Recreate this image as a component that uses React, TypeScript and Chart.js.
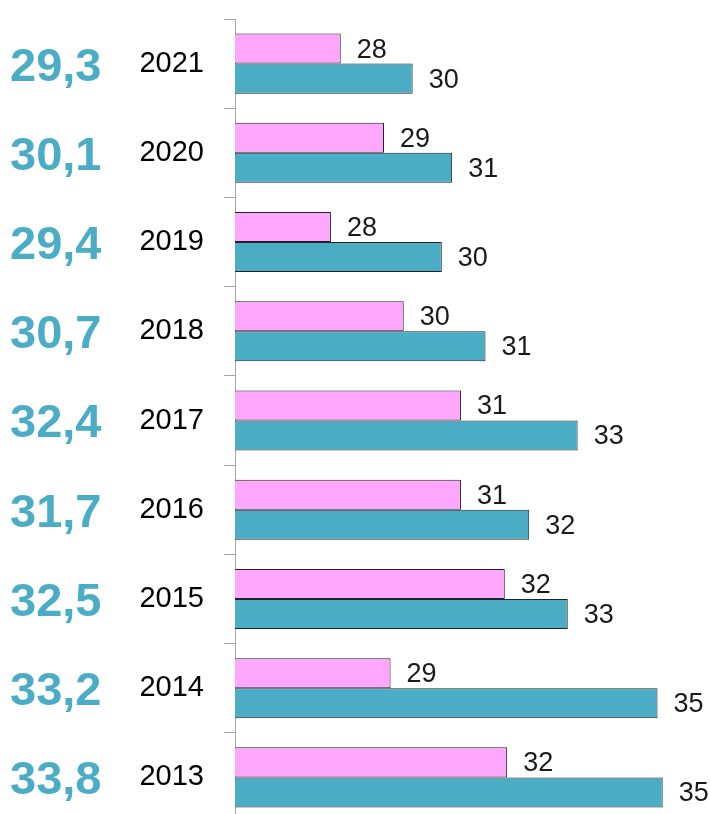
import React, { useEffect, useRef } from "react";
import { Chart, registerables } from "chart.js";

Chart.register(...registerables);

const years = ["2021", "2020", "2019", "2018", "2017", "2016", "2015", "2014", "2013"];
const pinkValues = [28.25, 29.17, 28.04, 29.59, 30.81, 30.81, 31.74, 29.31, 31.79];
const tealValues = [29.78, 30.62, 30.4, 31.33, 33.29, 32.26, 33.08, 34.99, 35.1];
const sideValues = ["29,3", "30,1", "29,4", "30,7", "32,4", "31,7", "32,5", "33,2", "33,8"];

const PINK = "#FFA6FF";
const TEAL = "#4BACC6";
const FONT = "'Liberation Sans', Arial, sans-serif";

const labelPlugin = {
  id: "valueLabels",
  afterDatasetsDraw(chart: any) {
    const ctx = chart.ctx;
    ctx.save();
    ctx.font = `27px ${FONT}`;
    ctx.fillStyle = "#1a1a1a";
    ctx.textAlign = "left";
    ctx.textBaseline = "middle";
    chart.data.datasets.forEach((ds: any, di: number) => {
      const meta = chart.getDatasetMeta(di);
      meta.data.forEach((bar: any, i: number) => {
        const v = ds.data[i] as number;
        ctx.fillText(String(Math.round(v)), bar.x + 16, bar.y + 1.5);
      });
    });
    ctx.restore();
  },
};

const sidePlugin = {
  id: "sideValues",
  afterDraw(chart: any) {
    const ctx = chart.ctx;
    const y = chart.scales.y;
    ctx.save();
    ctx.font = `bold 47px ${FONT}`;
    ctx.fillStyle = TEAL;
    ctx.textAlign = "left";
    ctx.textBaseline = "middle";
    sideValues.forEach((t, i) => {
      ctx.fillText(t, 10, y.getPixelForValue(i) + 4);
    });
    ctx.restore();
  },
};

export default function App() {
  const ref = useRef<HTMLCanvasElement | null>(null);
  useEffect(() => {
    if (!ref.current) return;
    const chart = new Chart(ref.current, {
      type: "bar",
      data: {
        labels: years,
        datasets: [
          {
            data: pinkValues,
            backgroundColor: PINK,
            borderColor: "#222222",
            borderWidth: 1,
            categoryPercentage: 0.673,
            barPercentage: 1,
          },
          {
            data: tealValues,
            backgroundColor: TEAL,
            borderColor: "#222222",
            borderWidth: 1,
            categoryPercentage: 0.673,
            barPercentage: 1,
          },
        ],
      },
      options: {
        indexAxis: "y",
        responsive: false,
        animation: false,
        layout: { padding: { top: 19, bottom: 8, left: 0, right: 5 } },
        plugins: { legend: { display: false }, tooltip: { enabled: false } },
        scales: {
          x: { display: false, min: 26, max: 36 },
          y: {
            afterFit: (s: any) => {
              s.width = 235;
              s.paddingTop = 0;
              s.paddingBottom = 0;
            },
            border: { display: true, color: "#A6A6A6", width: 1 },
            grid: {
              display: true,
              drawOnChartArea: false,
              drawTicks: true,
              tickLength: 11,
              color: "#A6A6A6",
              offset: true,
            },
            ticks: {
              color: "#000000",
              padding: 20,
              font: { family: FONT, size: 29 },
            },
          },
        },
      },
      plugins: [labelPlugin, sidePlugin],
    });
    return () => chart.destroy();
  }, []);
  return (
    <div style={{ position: "absolute", left: 0, top: 0, width: 710, height: 814, overflow: "hidden", background: "#fff" }}>
      <canvas ref={ref} width={710} height={830} style={{ display: "block" }} />
    </div>
  );
}
